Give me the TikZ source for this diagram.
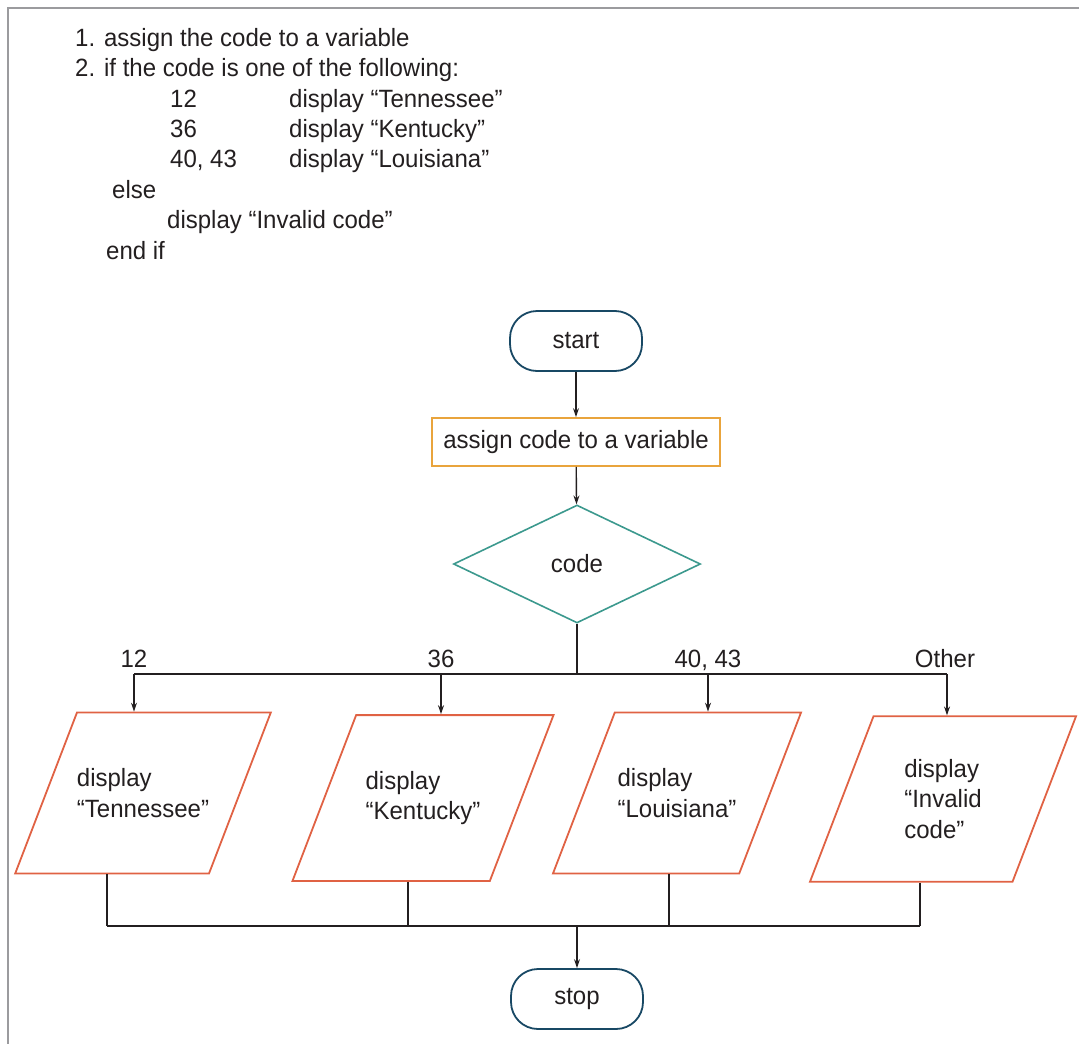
\documentclass[tikz,border=0pt]{standalone}
\usepackage{fontspec}
\setmainfont{Liberation Sans}[FakeStretch=0.96]
\usetikzlibrary{shapes.geometric,arrows.meta}
\definecolor{termblue}{RGB}{24,72,100}
\definecolor{procorange}{RGB}{233,164,60}
\definecolor{decteal}{RGB}{60,153,142}
\definecolor{iored}{RGB}{224,98,68}
\definecolor{inkgray}{RGB}{35,31,32}
\definecolor{framegray}{RGB}{155,155,158}
\begin{document}
\begin{tikzpicture}
   [x=1pt,y=-1pt,
    every node/.style={font=\fontsize{25}{30.5}\selectfont, text=inkgray},
    pseudo/.style={anchor=base west, inner sep=0pt},
    caselabel/.style={anchor=base, inner sep=0pt},
    terminal/.style={draw=termblue, line width=1.8pt, rounded corners=27pt,
                     minimum width=132pt, minimum height=60pt},
    process/.style={draw=procorange, line width=1.8pt,
                    minimum width=288pt, minimum height=48pt},
    decision/.style={diamond, draw=decteal, line width=1.6pt, inner sep=0pt,
                     minimum width=247pt, minimum height=118pt},
    io/.style={trapezium, trapezium left angle=69, trapezium right angle=111,
               trapezium stretches body=true, draw=iored, line width=1.8pt,
               align=left, inner xsep=0pt},
    flow/.style={draw=inkgray, line width=1.4pt},
    arrow/.style={flow, -{Stealth[length=9pt,width=6pt]}}]
   \useasboundingbox (0,0) rectangle (1079,1044);
   % frame
   \draw[framegray, line width=2pt] (8,1044) -- (8,7.5) -- (1079,7.5);

   % pseudocode
   \node[pseudo] (p1) at (75,46) {1. assign the code to a variable};
   \node[pseudo] (p2) at (75,76) {2. if the code is one of the following:};
   \node[pseudo] (p3a) at (170,107) {12};
   \node[pseudo] (p3b) at (289,107) {display “Tennessee”};
   \node[pseudo] (p4a) at (170,137) {36};
   \node[pseudo] (p4b) at (289,137) {display “Kentucky”};
   \node[pseudo] (p5a) at (170,167) {40, 43};
   \node[pseudo] (p5b) at (289,167) {display “Louisiana”};
   \node[pseudo] (p6) at (112,198) {else};
   \node[pseudo] (p7) at (167,228) {display “Invalid code”};
   \node[pseudo] (p8) at (106,259) {end if};

   % flowchart
   \node[terminal] (start) at (576,341) {start};
   \node[process] (assign) at (576,442) {assign code to a variable};
   \node[decision] (code) at (577,564) {code};

   \node[io, minimum width=250pt, inner ysep=56pt] (tn) at (143,793)
      {display\\“Tennessee”};
   \node[io, minimum width=261pt, inner ysep=56pt] (ky) at (423,798)
      {display\\“Kentucky”};
   \node[io, minimum width=248pt, inner ysep=56pt] (la) at (677,793)
      {display\\“Louisiana”};
   \node[io, minimum width=266pt, inner ysep=43pt] (inv) at (943,799)
      {display\\“Invalid\\code”};

   \node[terminal] (stop) at (577,999) {stop};

   % branch points
   \coordinate (split) at (577,674);
   \coordinate (s1) at (134,674);
   \coordinate (s2) at (441,674);
   \coordinate (s3) at (708,674);
   \coordinate (s4) at (947,674);
   \coordinate (merge) at (577,926);
   \coordinate (m1) at (107,926);
   \coordinate (m2) at (408,926);
   \coordinate (m3) at (669,926);
   \coordinate (m4) at (920,926);

   \node[caselabel] (c1) at (134,667) {12};
   \node[caselabel] (c2) at (441,667) {36};
   \node[caselabel] (c3) at (708,667) {40, 43};
   \node[caselabel] (c4) at (945,667) {Other};

   \draw[arrow] (start) -- (assign);
   \draw[arrow] (assign) -- (code);
   \draw[flow] (code.south) -- (split);
   \draw[flow] (s1) -- (s4);
   \draw[arrow] (s1) -- (s1 |- tn.north);
   \draw[arrow] (s2) -- (s2 |- ky.north);
   \draw[arrow] (s3) -- (s3 |- la.north);
   \draw[arrow] (s4) -- (s4 |- inv.north);

   \draw[flow] (m1 |- tn.south) -- (m1);
   \draw[flow] (m2 |- ky.south) -- (m2);
   \draw[flow] (m3 |- la.south) -- (m3);
   \draw[flow] (m4 |- inv.south) -- (m4);
   \draw[flow] (m1) -- (m4);
   \draw[arrow] (merge) -- (stop);
\end{tikzpicture}
\end{document}
